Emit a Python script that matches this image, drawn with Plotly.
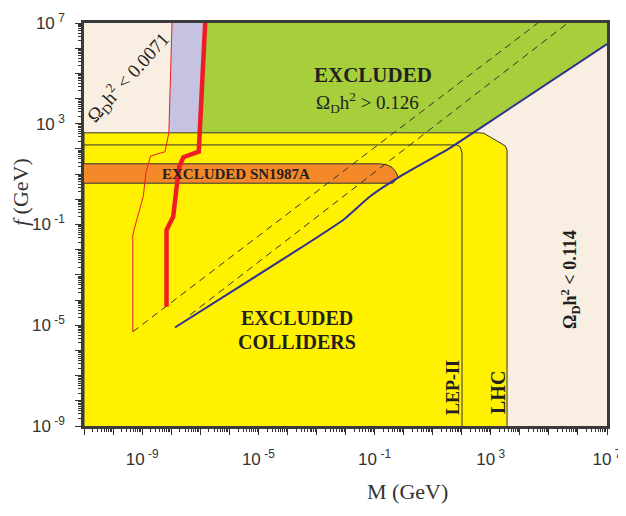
import plotly.graph_objects as go

# ---------------- data (log10 of M [GeV] and f [GeV]) ----------------
x_range = [-11, 7]
y_range = [-9, 7]
x_label_exp = [-9, -5, -1, 3, 7]
y_label_exp = [-9, -5, -1, 3, 7]

thin_red_logM = [-7.97, -8.08, -8.21, -8.71, -8.87, -8.96, -9.25, -9.32, -9.32]
thin_red_logf = [7.0, 2.64, 1.89, 1.72, 1.05, 0.11, -1.09, -1.42, -5.26]

thick_red_logM = [-6.83, -6.99, -7.05, -7.58, -7.72, -7.81, -7.93, -8.16, -8.16]
thick_red_logf = [7.0, 2.64, 1.89, 1.67, 1.30, 0.50, -0.69, -1.22, -4.27]

blue_logM = [-7.87, -3.57, -2.08, -1.16, -0.13, 1.59, 2.39, 7.0]
blue_logf = [-5.09, -1.95, -0.82, 0.11, 0.90, 2.03, 2.64, 6.165]

dash1_logM = [-9.32, 4.62]
dash1_logf = [-5.26, 7.0]
dash2_logM = [-7.35, 5.65]
dash2_logf = [-4.59, 7.0]

yellow_logM = [-11, -11, 2.62, 2.76, 2.85, 3.37, 3.50, 3.56, 3.56]
yellow_logf = [-9, 2.64, 2.64, 2.62, 2.56, 2.23, 2.12, 1.96, -9]

lep_logM = [-11, 1.82, 1.95, 2.01, 2.01]
lep_logf = [2.16, 2.16, 2.08, 1.83, -9]

sn_logM = [-11, -0.82, -0.58, -0.40, -0.27, -0.19, -0.37, -11]
sn_logf = [1.41, 1.41, 1.37, 1.27, 1.09, 0.89, 0.64, 0.64]

# ---------------- styles ----------------
BEIGE = "#F9EEE2"
LAVENDER = "#C5C3E1"
GREEN = "#A7CE3B"
YELLOW = "#FFF100"
ORANGE = "#F4892A"
RED = "#EE1C25"
BLUE = "#2E3192"
DARK = "#333333"
TXT = "#231F20"
SERIF = "Liberation Serif"
SANS = "Liberation Sans"


def p(v):
    return [10 ** a for a in v]


fig = go.Figure()

# lavender band between the two red curves above the collider bound
lav_M = [thin_red_logM[0], thick_red_logM[0], thick_red_logM[1], thin_red_logM[1]]
lav_f = [thin_red_logf[0], thick_red_logf[0], thick_red_logf[1], thin_red_logf[1]]
fig.add_trace(go.Scatter(x=p(lav_M), y=p(lav_f), fill="toself", fillcolor=LAVENDER,
                         mode="none"))

# green excluded relic-density region
gr_M = [thick_red_logM[0], x_range[1], x_range[1], blue_logM[-2], thick_red_logM[1]]
gr_f = [y_range[1], y_range[1], blue_logf[-1], blue_logf[-2], thick_red_logf[1]]
fig.add_trace(go.Scatter(x=p(gr_M), y=p(gr_f), fill="toself", fillcolor=GREEN,
                         mode="none"))

# yellow collider region
fig.add_trace(go.Scatter(x=p(yellow_logM), y=p(yellow_logf), fill="toself",
                         fillcolor=YELLOW, mode="lines",
                         line=dict(color=DARK, width=1)))

# LEP-II boundary
fig.add_trace(go.Scatter(x=p(lep_logM), y=p(lep_logf), mode="lines",
                         line=dict(color=DARK, width=1)))

# SN1987A band
fig.add_trace(go.Scatter(x=p(sn_logM), y=p(sn_logf), fill="toself",
                         fillcolor=ORANGE, mode="lines",
                         line=dict(color=DARK, width=1)))

# dashed lines
for xm, yf in [(dash1_logM, dash1_logf), (dash2_logM, dash2_logf)]:
    fig.add_trace(go.Scatter(x=p(xm), y=p(yf), mode="lines",
                             line=dict(color=DARK, width=1, dash="7px,5px")))

# blue line
fig.add_trace(go.Scatter(x=p(blue_logM), y=p(blue_logf), mode="lines",
                         line=dict(color=BLUE, width=2, shape="spline", smoothing=0.4)))

# red curves
fig.add_trace(go.Scatter(x=p(thin_red_logM), y=p(thin_red_logf), mode="lines",
                         line=dict(color=RED, width=1)))
fig.add_trace(go.Scatter(x=p(thick_red_logM), y=p(thick_red_logf), mode="lines",
                         line=dict(color=RED, width=4.5)))


def ticks(lo, hi, labels):
    vals, texts = [], []
    for k in range(lo, hi + 1):
        vals.append(10 ** k)
        texts.append(f"10\u2009<sup>{k}</sup>" if k in labels else "")
    return vals, texts


def minors(lo, hi):
    return [m * 10 ** k for k in range(lo, hi) for m in range(2, 10)]


xv, xt = ticks(x_range[0], x_range[1], x_label_exp)
yv, yt = ticks(y_range[0], y_range[1], y_label_exp)

axis_common = dict(type="log", showgrid=False, zeroline=False, showline=True,
                   mirror=True, linewidth=2.5, linecolor="#3A3A3A", automargin=False,
                   ticks="outside", ticklen=6, tickwidth=1.2, tickcolor=DARK,
                   tickfont=dict(family=SANS, size=17, color="#333333"))

fig.update_xaxes(range=x_range, tickvals=xv, ticktext=xt,
                 minor=dict(tickvals=minors(x_range[0], x_range[1]), ticks="outside",
                            ticklen=3, tickcolor=DARK, tickwidth=1),
                 ticklabelstandoff=10, **axis_common)
fig.update_yaxes(range=y_range, tickvals=yv, ticktext=yt,
                 minor=dict(tickvals=minors(y_range[0], y_range[1]), ticks="outside",
                            ticklen=3, tickcolor=DARK, tickwidth=1),
                 ticklabelstandoff=7, **axis_common)

ann = [
    dict(x=-1.06, y=4.94, text="<b>EXCLUDED</b>", size=21, angle=0),
    dict(x=-1.23, y=3.85, text="Ω<sub>D</sub>h<sup>2</sup> > 0.126", size=19, angle=0),
    dict(x=-5.77, y=1.01, text="<b>EXCLUDED SN1987A</b>", size=15, angle=0),
    dict(x=-3.67, y=-4.72, text="<b>EXCLUDED</b>", size=20, angle=0),
    dict(x=-3.67, y=-5.67, text="<b>COLLIDERS</b>", size=20, angle=0),
    dict(x=1.69, y=-7.46, text="<b>LEP-II</b>", size=18, angle=-90),
    dict(x=3.24, y=-7.66, text="<b>LHC</b>", size=20, angle=-90),
    dict(x=5.72, y=-3.17, text="<b>Ω<sub>D</sub>h<sup>2</sup> < 0.114</b>", size=18, angle=-90),
    dict(x=-9.49, y=4.83, text="Ω<sub>D</sub>h<sup>2</sup> < 0.0071", size=19, angle=-48),
]
for a in ann:
    fig.add_annotation(x=a["x"], y=a["y"], xref="x", yref="y", text=a["text"],
                       showarrow=False, textangle=a["angle"],
                       xanchor="center", yanchor="middle",
                       font=dict(family=SERIF, size=a["size"], color=TXT))

# axis titles
fig.add_annotation(x=(407 - 84) / 523.0, y=(426 - 491) / 403.0, xref="paper", yref="paper",
                   text="M (GeV)", showarrow=False, xanchor="center", yanchor="middle",
                   font=dict(family=SERIF, size=22, color="#333333"))
fig.add_annotation(x=(21 - 84) / 523.0, y=(426 - 192) / 403.0, xref="paper", yref="paper",
                   text="<i>f</i> (GeV)", showarrow=False, textangle=-90,
                   xanchor="center", yanchor="middle",
                   font=dict(family=SERIF, size=22, color="#333333"))

fig.update_layout(width=618, height=508, showlegend=False,
                  margin=dict(l=76, r=19, t=15, b=90, autoexpand=False),
                  plot_bgcolor=BEIGE, paper_bgcolor="white",
                  hovermode=False)

fig.write_html("out.html")
